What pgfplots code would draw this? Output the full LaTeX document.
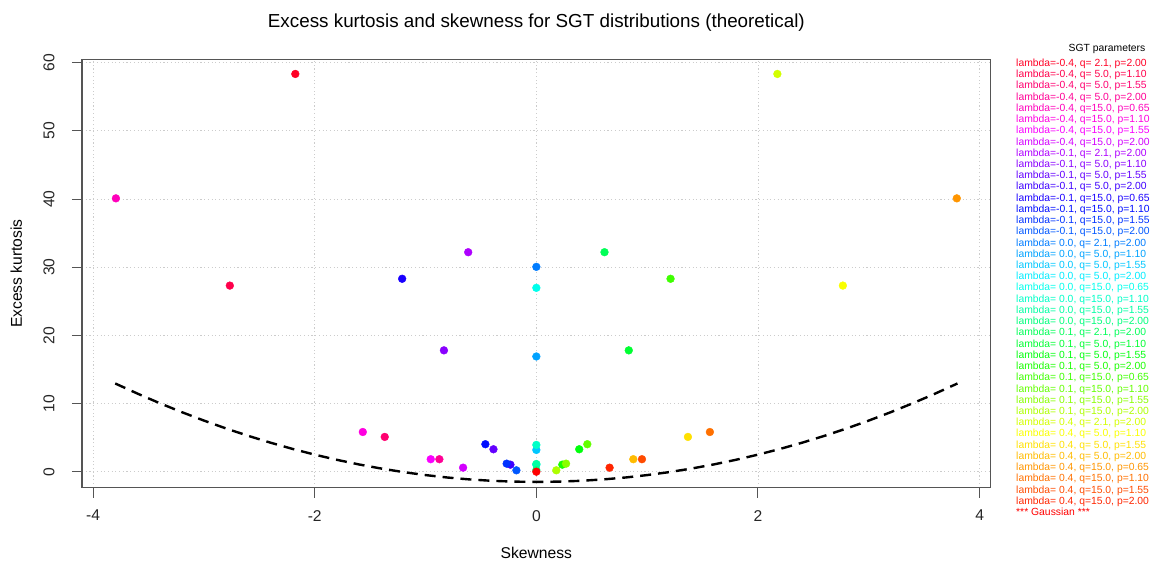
\documentclass[border=0pt]{standalone}
\usepackage{fontspec}
\setmainfont{Liberation Sans}
\usepackage[rgb]{xcolor}
\usepackage{pgfplots}
\pgfplotsset{compat=1.18}

% rev(rainbow(41)): one hue per SGT parameter set, red for the Gaussian
\definecolor{c1}{Hsb}{351.22,1,1}
\definecolor{c2}{Hsb}{342.44,1,1}
\definecolor{c3}{Hsb}{333.66,1,1}
\definecolor{c4}{Hsb}{324.88,1,1}
\definecolor{c5}{Hsb}{316.10,1,1}
\definecolor{c6}{Hsb}{307.32,1,1}
\definecolor{c7}{Hsb}{298.54,1,1}
\definecolor{c8}{Hsb}{289.76,1,1}
\definecolor{c9}{Hsb}{280.98,1,1}
\definecolor{c10}{Hsb}{272.20,1,1}
\definecolor{c11}{Hsb}{263.41,1,1}
\definecolor{c12}{Hsb}{254.63,1,1}
\definecolor{c13}{Hsb}{245.85,1,1}
\definecolor{c14}{Hsb}{237.07,1,1}
\definecolor{c15}{Hsb}{228.29,1,1}
\definecolor{c16}{Hsb}{219.51,1,1}
\definecolor{c17}{Hsb}{210.73,1,1}
\definecolor{c18}{Hsb}{201.95,1,1}
\definecolor{c19}{Hsb}{193.17,1,1}
\definecolor{c20}{Hsb}{184.39,1,1}
\definecolor{c21}{Hsb}{175.61,1,1}
\definecolor{c22}{Hsb}{166.83,1,1}
\definecolor{c23}{Hsb}{158.05,1,1}
\definecolor{c24}{Hsb}{149.27,1,1}
\definecolor{c25}{Hsb}{140.49,1,1}
\definecolor{c26}{Hsb}{131.71,1,1}
\definecolor{c27}{Hsb}{122.93,1,1}
\definecolor{c28}{Hsb}{114.15,1,1}
\definecolor{c29}{Hsb}{105.37,1,1}
\definecolor{c30}{Hsb}{96.59,1,1}
\definecolor{c31}{Hsb}{87.80,1,1}
\definecolor{c32}{Hsb}{79.02,1,1}
\definecolor{c33}{Hsb}{70.24,1,1}
\definecolor{c34}{Hsb}{61.46,1,1}
\definecolor{c35}{Hsb}{52.68,1,1}
\definecolor{c36}{Hsb}{43.90,1,1}
\definecolor{c37}{Hsb}{35.12,1,1}
\definecolor{c38}{Hsb}{26.34,1,1}
\definecolor{c39}{Hsb}{17.56,1,1}
\definecolor{c40}{Hsb}{8.78,1,1}
\definecolor{c41}{Hsb}{0,1,1}
\definecolor{boxgray}{HTML}{555555}

\pgfplotsset{pt/.style={only marks, mark=*, mark size=3.9bp, color=#1}}

\begin{document}
\begin{tikzpicture}
\path (-82bp,-78.3bp) rectangle (1076bp,487.7bp);
\begin{axis}[
  scale only axis, width=908.7bp, height=428.4bp,
  xmin=-4.1, xmax=4.1, ymin=-2.35, ymax=60.5,
  xtick={-4,-2,0,2,4}, ytick={0,10,20,30,40,50,60},
  tick pos=left, tick align=outside, major tick length=10bp,
  grid=major, major grid style={black!20, line width=0.9bp, dash pattern=on 1.1bp off 2.6bp},
  axis line style={boxgray, line width=1.3bp},
  major tick style={boxgray, line width=1bp},
  /pgf/number format/assume math mode=true,
  ticklabel style={font=\fontsize{15.7}{18}\selectfont, text=black!85},
  xticklabel style={yshift=-9bp},
  yticklabel style={xshift=-14bp, rotate=90, anchor=south},
]
% lower bound curve
\addplot[black, line width=2.4bp, dash pattern=on 11bp off 7bp] coordinates {
 (-3.8,12.94) (-3.6,11.46) (-3.4,10.06) (-3.2,8.74) (-3.0,7.5) (-2.8,6.34)
 (-2.6,5.26) (-2.4,4.26) (-2.2,3.34) (-2.0,2.5) (-1.8,1.74) (-1.6,1.06)
 (-1.4,0.46) (-1.2,-0.06) (-1.0,-0.5) (-0.8,-0.86) (-0.6,-1.14) (-0.4,-1.34)
 (-0.2,-1.46) (0,-1.5) (0.2,-1.46) (0.4,-1.34) (0.6,-1.14) (0.8,-0.86)
 (1.0,-0.5) (1.2,-0.06) (1.4,0.46) (1.6,1.06) (1.8,1.74) (2.0,2.5)
 (2.2,3.34) (2.4,4.26) (2.6,5.26) (2.8,6.34) (3.0,7.5) (3.2,8.74)
 (3.4,10.06) (3.6,11.46) (3.8,12.94)};
% lambda = -0.4
\addplot[pt=c1] coordinates {(-2.175,58.35)};
\addplot[pt=c2] coordinates {(-2.766,27.3)};
\addplot[pt=c3] coordinates {(-1.368,5.1)};
\addplot[pt=c4] coordinates {(-0.875,1.83)};
\addplot[pt=c5] coordinates {(-3.794,40.1)};
\addplot[pt=c6] coordinates {(-1.566,5.82)};
\addplot[pt=c7] coordinates {(-0.953,1.83)};
\addplot[pt=c8] coordinates {(-0.661,0.59)};
% lambda = -0.1
\addplot[pt=c9] coordinates {(-0.615,32.2)};
\addplot[pt=c10] coordinates {(-0.834,17.8)};
\addplot[pt=c11] coordinates {(-0.387,3.29)};
\addplot[pt=c12] coordinates {(-0.234,1.03)};
\addplot[pt=c13] coordinates {(-1.211,28.3)};
\addplot[pt=c14] coordinates {(-0.46,4.03)};
\addplot[pt=c15] coordinates {(-0.268,1.18)};
\addplot[pt=c16] coordinates {(-0.18,0.2)};
% lambda = 0
\addplot[pt=c17] coordinates {(0,30.05)};
\addplot[pt=c18] coordinates {(0,16.9)};
\addplot[pt=c19] coordinates {(0,3.19)};
\addplot[pt=c20] coordinates {(0,1.0)};
\addplot[pt=c21] coordinates {(0,26.97)};
\addplot[pt=c22] coordinates {(0,3.93)};
\addplot[pt=c23] coordinates {(0,1.13)};
\addplot[pt=c24] coordinates {(0,0.23)};
% lambda = 0.1
\addplot[pt=c25] coordinates {(0.615,32.2)};
\addplot[pt=c26] coordinates {(0.834,17.8)};
\addplot[pt=c27] coordinates {(0.387,3.29)};
\addplot[pt=c28] coordinates {(0.234,1.03)};
\addplot[pt=c29] coordinates {(1.211,28.3)};
\addplot[pt=c30] coordinates {(0.46,4.03)};
\addplot[pt=c31] coordinates {(0.268,1.18)};
\addplot[pt=c32] coordinates {(0.18,0.2)};
% lambda = 0.4
\addplot[pt=c33] coordinates {(2.175,58.35)};
\addplot[pt=c34] coordinates {(2.766,27.3)};
\addplot[pt=c35] coordinates {(1.368,5.1)};
\addplot[pt=c36] coordinates {(0.875,1.83)};
\addplot[pt=c37] coordinates {(3.794,40.1)};
\addplot[pt=c38] coordinates {(1.566,5.82)};
\addplot[pt=c39] coordinates {(0.953,1.83)};
\addplot[pt=c40] coordinates {(0.661,0.59)};
% Gaussian
\addplot[pt=c41] coordinates {(0,0)};
\end{axis}

\node[anchor=base, font=\fontsize{18.9}{22}\selectfont] at (454.35bp,459.9bp)
  {Excess kurtosis and skewness for SGT distributions (theoretical)};
\node[anchor=base, font=\fontsize{15.7}{18}\selectfont] at (454.35bp,-70.9bp) {Skewness};
\node[anchor=base, rotate=90, font=\fontsize{15.7}{18}\selectfont] at (-60bp,214.2bp) {Excess kurtosis};

% legend
\node[anchor=base, font=\fontsize{10.4}{12}\selectfont] at (1025bp,436.5bp) {SGT parameters};
\foreach \t [count=\i] in {
 {lambda=-0.4, q= 2.1, p=2.00}, {lambda=-0.4, q= 5.0, p=1.10},
 {lambda=-0.4, q= 5.0, p=1.55}, {lambda=-0.4, q= 5.0, p=2.00},
 {lambda=-0.4, q=15.0, p=0.65}, {lambda=-0.4, q=15.0, p=1.10},
 {lambda=-0.4, q=15.0, p=1.55}, {lambda=-0.4, q=15.0, p=2.00},
 {lambda=-0.1, q= 2.1, p=2.00}, {lambda=-0.1, q= 5.0, p=1.10},
 {lambda=-0.1, q= 5.0, p=1.55}, {lambda=-0.1, q= 5.0, p=2.00},
 {lambda=-0.1, q=15.0, p=0.65}, {lambda=-0.1, q=15.0, p=1.10},
 {lambda=-0.1, q=15.0, p=1.55}, {lambda=-0.1, q=15.0, p=2.00},
 {lambda= 0.0, q= 2.1, p=2.00}, {lambda= 0.0, q= 5.0, p=1.10},
 {lambda= 0.0, q= 5.0, p=1.55}, {lambda= 0.0, q= 5.0, p=2.00},
 {lambda= 0.0, q=15.0, p=0.65}, {lambda= 0.0, q=15.0, p=1.10},
 {lambda= 0.0, q=15.0, p=1.55}, {lambda= 0.0, q=15.0, p=2.00},
 {lambda= 0.1, q= 2.1, p=2.00}, {lambda= 0.1, q= 5.0, p=1.10},
 {lambda= 0.1, q= 5.0, p=1.55}, {lambda= 0.1, q= 5.0, p=2.00},
 {lambda= 0.1, q=15.0, p=0.65}, {lambda= 0.1, q=15.0, p=1.10},
 {lambda= 0.1, q=15.0, p=1.55}, {lambda= 0.1, q=15.0, p=2.00},
 {lambda= 0.4, q= 2.1, p=2.00}, {lambda= 0.4, q= 5.0, p=1.10},
 {lambda= 0.4, q= 5.0, p=1.55}, {lambda= 0.4, q= 5.0, p=2.00},
 {lambda= 0.4, q=15.0, p=0.65}, {lambda= 0.4, q=15.0, p=1.10},
 {lambda= 0.4, q=15.0, p=1.55}, {lambda= 0.4, q=15.0, p=2.00},
 {*** Gaussian ***}}
  \node[anchor=base west, inner sep=0pt, text=c\i, font=\fontsize{10.4}{12}\selectfont]
    at (934bp,{421.3bp-(\i-1)*11.23bp}) {\t};
\end{tikzpicture}
\end{document}
